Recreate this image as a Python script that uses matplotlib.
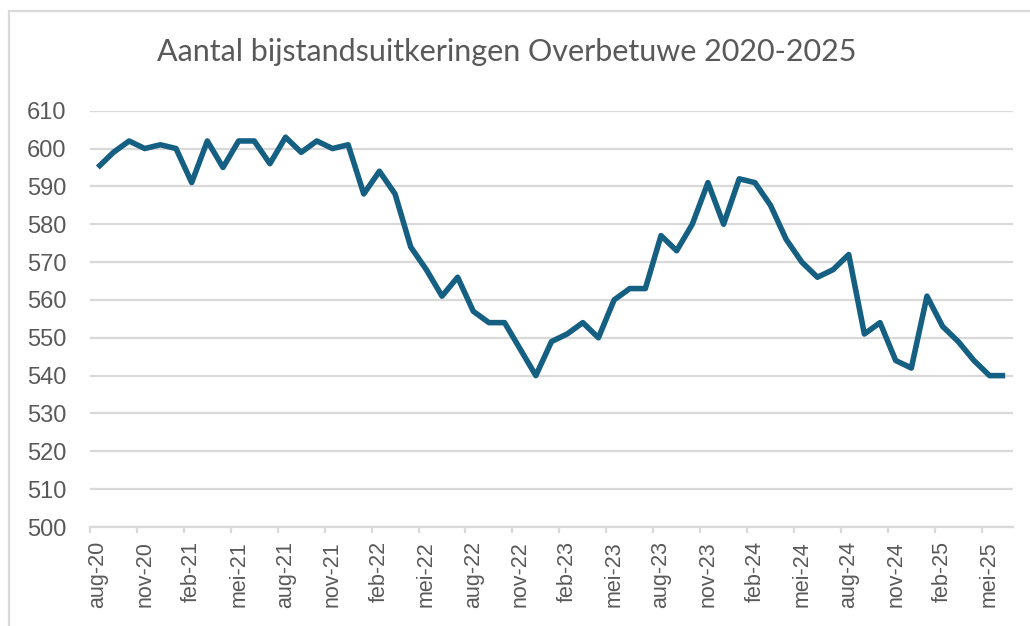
"""
Aantal bijstandsuitkeringen Overbetuwe 2020-2025 (Excel-style line chart).
"""

import matplotlib
matplotlib.use("Agg")
import matplotlib.pyplot as plt
from matplotlib.patches import Rectangle

plt.rcParams["font.family"] = ["Liberation Sans", "DejaVu Sans"]

# Monthly counts, aug-20 .. jun-25
MONTHS = [
    "aug-20", "sep-20", "okt-20", "nov-20", "dec-20",
    "jan-21", "feb-21", "mrt-21", "apr-21", "mei-21", "jun-21", "jul-21",
    "aug-21", "sep-21", "okt-21", "nov-21", "dec-21",
    "jan-22", "feb-22", "mrt-22", "apr-22", "mei-22", "jun-22", "jul-22",
    "aug-22", "sep-22", "okt-22", "nov-22", "dec-22",
    "jan-23", "feb-23", "mrt-23", "apr-23", "mei-23", "jun-23", "jul-23",
    "aug-23", "sep-23", "okt-23", "nov-23", "dec-23",
    "jan-24", "feb-24", "mrt-24", "apr-24", "mei-24", "jun-24", "jul-24",
    "aug-24", "sep-24", "okt-24", "nov-24", "dec-24",
    "jan-25", "feb-25", "mrt-25", "apr-25", "mei-25", "jun-25",
]
COUNTS = [
    595, 599, 602, 600, 601, 600, 591, 602, 595, 602, 602, 596,
    603, 599, 602, 600, 601, 588, 594, 588, 574, 568, 561, 566,
    557, 554, 554, 547, 540, 549, 551, 554, 550, 560, 563, 563,
    577, 573, 580, 591, 580, 592, 591, 585, 576, 570, 566, 568,
    572, 551, 554, 544, 542, 561, 553, 549, 544, 540, 540,
]
TICK_LABELS = [
    "aug-20", "nov-20", "feb-21", "mei-21", "aug-21", "nov-21", "feb-22",
    "mei-22", "aug-22", "nov-22", "feb-23", "mei-23", "aug-23", "nov-23",
    "feb-24", "mei-24", "aug-24", "nov-24", "feb-25", "mei-25",
]
Y_TICKS = list(range(500, 611, 10))

LINE_COLOR = "#156082"
GRID_COLOR = "#d9d9d9"
TEXT_COLOR = "#595959"

fig = plt.figure(figsize=(10.30, 6.26), dpi=100)
fig.patch.set_facecolor("white")
ax = fig.add_axes([90 / 1030, 1 - 527 / 626, 923 / 1030, (527 - 110.7) / 626])

x = list(range(len(COUNTS)))
ax.plot(x, COUNTS, color=LINE_COLOR, linewidth=4.0,
        solid_joinstyle="round", solid_capstyle="butt", zorder=3)

ax.set_xlim(-0.5, len(COUNTS) - 0.5)
ax.set_ylim(500, 610)

# y axis
ax.set_yticks(Y_TICKS)
ax.set_yticklabels([str(v) for v in Y_TICKS])
ax.yaxis.grid(True, color=GRID_COLOR, linewidth=1.6)
ax.set_axisbelow(True)
ax.tick_params(axis="y", length=0, pad=17, labelsize=17, labelcolor=TEXT_COLOR)

# x axis: labels centred on categories, tick marks on category boundaries
label_pos = [MONTHS.index(m) for m in TICK_LABELS]
ax.set_xticks(label_pos)
ax.set_xticklabels(TICK_LABELS, rotation=90, va="top", ha="center")
ax.set_xticks([p - 0.5 for p in label_pos], minor=True)
ax.tick_params(axis="x", which="major", length=0, pad=10,
               labelsize=15.5, labelcolor=TEXT_COLOR)
ax.tick_params(axis="x", which="minor", length=4.5, width=1.6,
               color=GRID_COLOR, direction="out")

for s in ["top", "right", "left"]:
    ax.spines[s].set_visible(False)
ax.spines["bottom"].set_color(GRID_COLOR)
ax.spines["bottom"].set_linewidth(1.6)

fig.text(507 / 1030, 1 - 52 / 626, "Aantal bijstandsuitkeringen Overbetuwe 2020-2025",
         ha="center", va="center", fontsize=22, color=TEXT_COLOR, family="Lato")

# chart-area border (runs off the right and bottom edges)
fig.patches.append(Rectangle((9 / 1030, -0.1), 1.2, 1 - 11 / 626 + 0.1,
                             transform=fig.transFigure, fill=False,
                             edgecolor=GRID_COLOR, linewidth=1.6))

fig.savefig("out.png", dpi=100, facecolor="white")
plt.close(fig)
